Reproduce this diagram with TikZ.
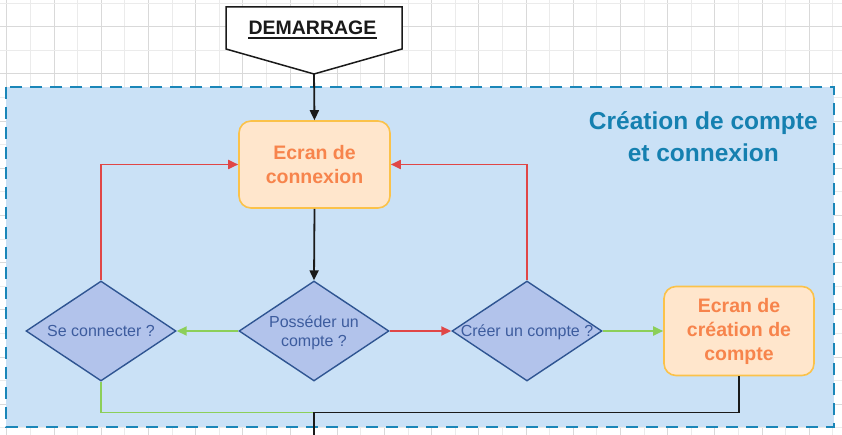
\documentclass[tikz,border=0pt]{standalone}
\usepackage{fontspec}
\setmainfont{Liberation Sans}
\usetikzlibrary{arrows.meta,shapes.geometric}
\definecolor{gridminor}{HTML}{EBEBEB}
\definecolor{gridmajor}{HTML}{D9D9D9}
\definecolor{boxfill}{HTML}{CAE1F6}
\definecolor{boxline}{HTML}{1A86B8}
\definecolor{titlecol}{HTML}{1580B0}
\definecolor{ecfill}{HTML}{FFE6CC}
\definecolor{ecline}{HTML}{FBC24A}
\definecolor{ectext}{HTML}{F7844C}
\definecolor{diafill}{HTML}{B2C3EB}
\definecolor{dialine}{HTML}{2F5592}
\definecolor{diatext}{HTML}{3D5C9E}
\definecolor{redc}{HTML}{E04646}
\definecolor{greenc}{HTML}{8CCF59}
\definecolor{blackc}{HTML}{1A1A1A}
\newcommand{\ztext}[1]{\makebox[0pt]{\smash{\raisebox{-6.5pt}{\begin{tabular}{@{}c@{}}#1\end{tabular}}}}}
\tikzset{
  ecbox/.style={draw=ecline, fill=ecfill, line width=1.6pt, rounded corners=12pt,
    minimum width=151pt, minimum height=87pt, inner sep=0pt, align=center,
    text=ectext, font=\fontsize{19.5}{24}\selectfont\bfseries},
  diabox/.style={shape=diamond, draw=dialine, fill=diafill, line width=1.4pt,
    minimum width=150pt, minimum height=100pt, inner sep=0pt,
    text=diatext, font=\fontsize{16}{18.5}\selectfont},
  conn/.style={line width=1.8pt, -{Triangle[length=10pt,width=9pt]}},
  plain/.style={line width=1.8pt},
}
\begin{document}
\begin{tikzpicture}[x=1pt,y=-1pt]
\useasboundingbox (0,0) rectangle (842,435);
\fill[white] (0,0) rectangle (842,435);
% grid
\foreach \i in {0,...,35} {
  \pgfmathtruncatemacro{\m}{mod(\i,2)}
  \ifnum\m=0
    \draw[gridmajor, line width=0.8pt] ({6.7+23.6*\i},0) -- ++(0,435);
  \else
    \draw[gridminor, line width=0.8pt] ({6.7+23.6*\i},0) -- ++(0,435);
  \fi
}
\foreach \j in {0,...,18} {
  \pgfmathtruncatemacro{\m}{mod(\j,2)}
  \ifnum\m=1
    \draw[gridmajor, line width=0.8pt] (0,{3+23.6*\j}) -- ++(842,0);
  \else
    \draw[gridminor, line width=0.8pt] (0,{3+23.6*\j}) -- ++(842,0);
  \fi
}
% container
\draw[boxline, fill=boxfill, line width=2pt, dash pattern=on 12pt off 8pt] (6,87) rectangle (834,427);
\node[text=titlecol, font=\fontsize{24.5}{32}\selectfont\bfseries, align=center] (title) at (703.3,137) {Création de compte\\et connexion};
% start
\draw[blackc, fill=white, line width=1.5pt] (226,7) -- (402,7) -- (402,49) -- (314,74) -- (226,49) -- cycle;
\coordinate (demtip) at (314,74);
\node[anchor=base, font=\fontsize{19.5}{24}\selectfont\bfseries, text=blackc, inner sep=0pt] (dem) at (312.5,35) {DEMARRAGE};
\draw[blackc, line width=2.4pt] ([yshift=-3pt]dem.base west) -- ([yshift=-3pt]dem.base east);
% nodes
\node[ecbox] (ec) at (314.5,164.5) {Ecran de\\connexion};
\node[diabox] (d1) at (101,331) {\ztext{Se connecter ?}};
\node[diabox] (d2) at (314,331) {\ztext{Posséder un\\compte ?}};
\node[diabox] (d3) at (527,331) {\ztext{Créer un compte ?}};
\node[ecbox, minimum width=150pt, minimum height=89pt] (ecc) at (739,331) {Ecran de\\création de\\compte};
\coordinate (join) at (314,412.5);
\coordinate (down) at (314,440);
% connectors
\draw[conn, blackc] (demtip) -- (ec.north);
\draw[conn, blackc] (ec.south) -- (d2.north);
\draw[conn, greenc] (d2.west) -- (d1.east);
\draw[conn, redc] (d2.east) -- (d3.west);
\draw[conn, greenc] (d3.east) -- (ecc.west);
\draw[conn, redc] (d1.north) |- (ec.west);
\draw[conn, redc] (d3.north) |- (ec.east);
\draw[plain, greenc] (d1.south) |- (join);
\draw[plain, blackc] (ecc.south) |- (join) -- (down);
\end{tikzpicture}
\end{document}
